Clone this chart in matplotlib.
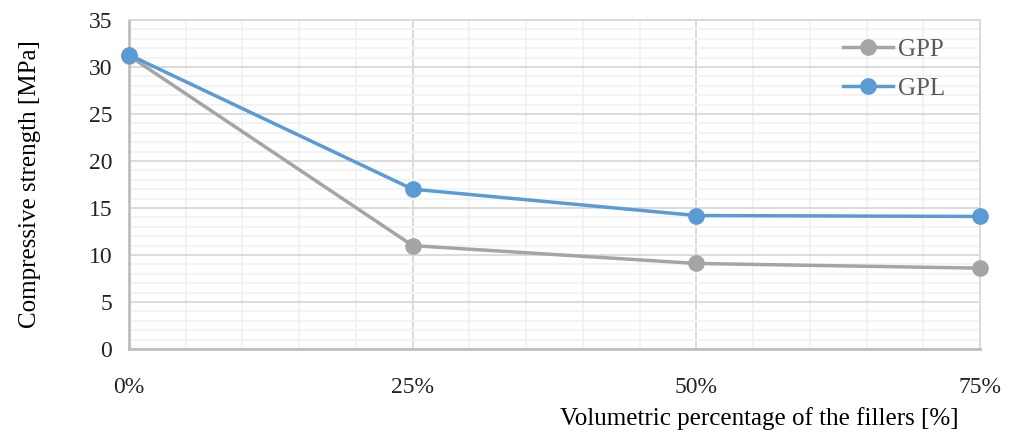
import numpy as np
import matplotlib.pyplot as plt
from matplotlib.ticker import MultipleLocator, FuncFormatter

plt.rcParams['font.family'] = ['Liberation Serif', 'DejaVu Serif']

fillers = [0, 25, 50, 75]
gpp = [31.2, 11.0, 9.1, 8.6]
gpl = [31.3, 17.0, 14.2, 14.1]

fig = plt.figure(figsize=(10.14, 4.33), dpi=100)
ax = fig.add_axes([0.1272, 0.194, 0.8393, 0.7598])

ax.plot(fillers, gpp, color="#a5a5a5", lw=2.5, marker="o", ms=11, label="GPP", zorder=3, clip_on=False)
ax.plot(fillers, gpl, color="#5b9bd5", lw=2.5, marker="o", ms=11, label="GPL", zorder=4, clip_on=False)

ax.set_xlim(0, 75)
ax.set_ylim(0, 35)
ax.xaxis.set_major_locator(MultipleLocator(25))
ax.xaxis.set_minor_locator(MultipleLocator(5))
ax.yaxis.set_major_locator(MultipleLocator(5))
ax.yaxis.set_minor_locator(MultipleLocator(1))
ax.xaxis.set_major_formatter(FuncFormatter(lambda v, p: f"{int(v)}%"))

ax.grid(which="major", color="#d9d9d9", lw=1.3)
ax.grid(which="minor", color="#f2f2f2", lw=1.3)
ax.set_axisbelow(True)
for s in ax.spines.values():
    s.set_color("#d9d9d9")
    s.set_linewidth(1.3)
ax.spines["left"].set_color("#bfbfbf")
ax.spines["bottom"].set_color("#bfbfbf")
ax.spines["left"].set_linewidth(2)
ax.spines["bottom"].set_linewidth(2)

ax.tick_params(which="both", length=0, labelsize=17, colors="#222222")
ax.tick_params(axis="x", pad=20)
ax.tick_params(axis="y", pad=12)

ax.set_ylabel("Compressive strength [MPa]", fontsize=18, labelpad=34)
fig.text(0.945, 0.006, "Volumetric percentage of the fillers [%]", fontsize=18, ha="right", va="bottom")

ax.legend(loc="upper right", bbox_to_anchor=(0.985, 1.012), frameon=False, fontsize=18,
          labelcolor="#595959", handlelength=2.0, handletextpad=0.2, labelspacing=0.65)

plt.savefig("out.png")
